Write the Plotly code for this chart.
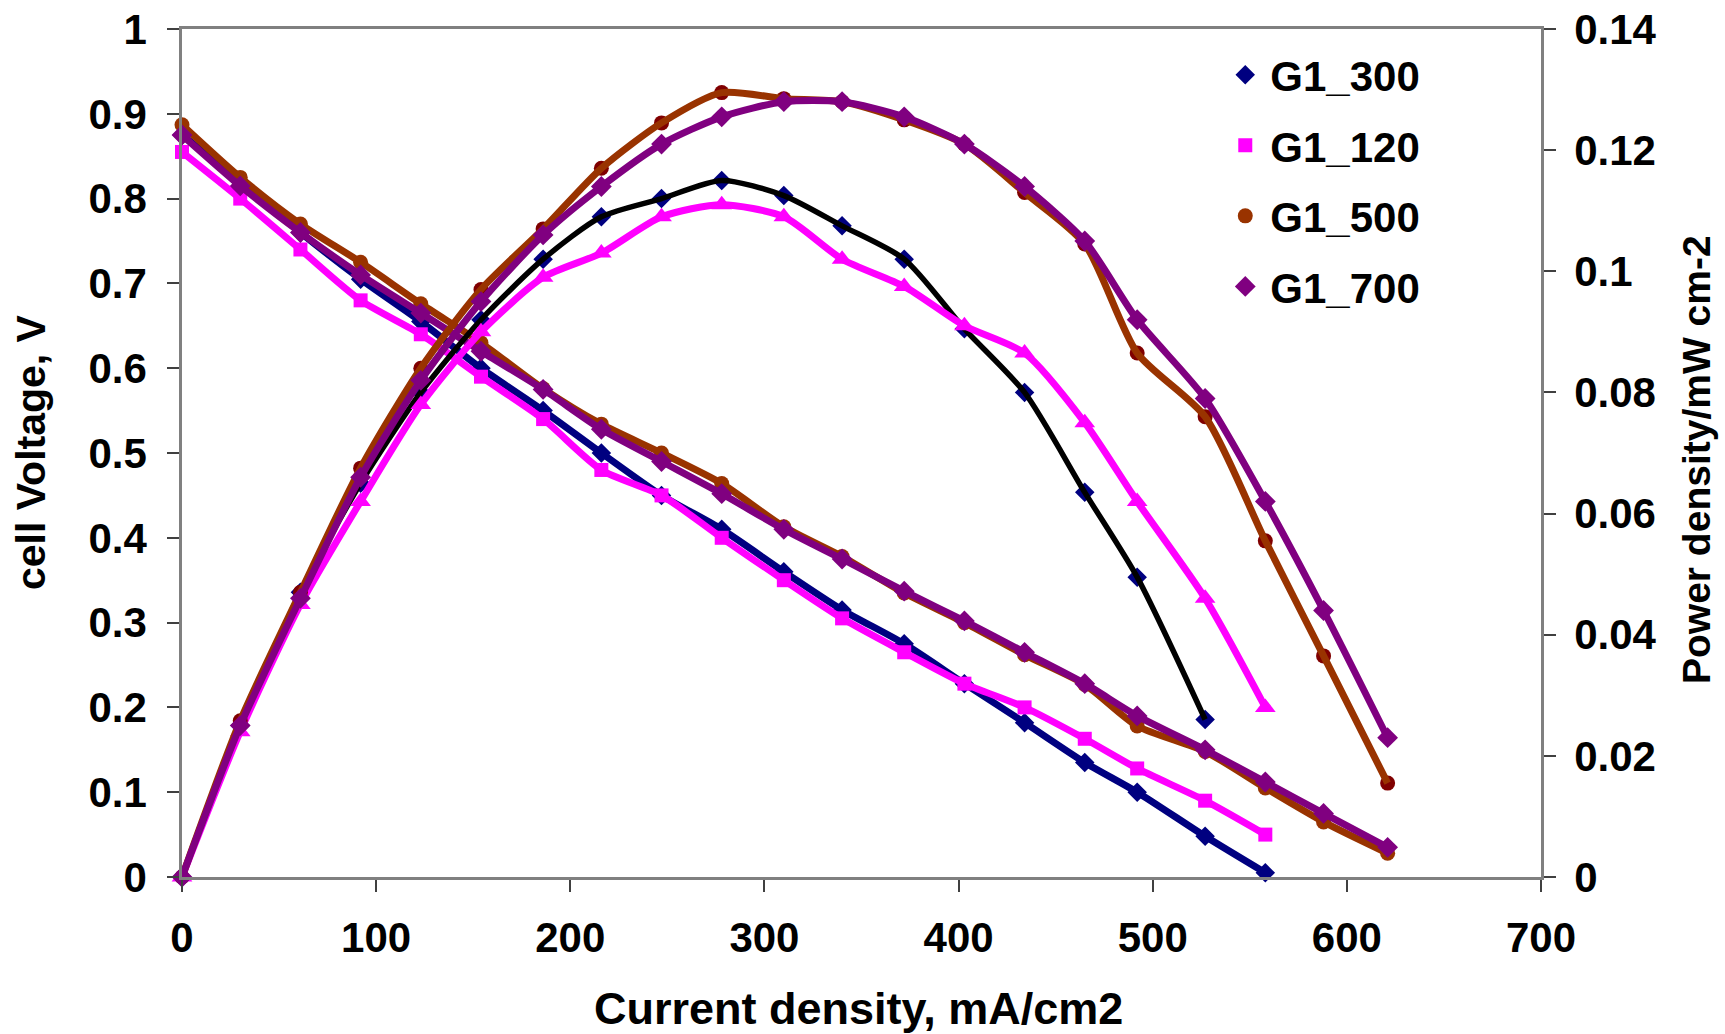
import plotly.graph_objects as go

# Current density (mA/cm2)
x_common = [0, 30, 61, 92, 123, 154, 186, 216, 247, 278, 310, 340, 372, 403, 434, 465, 492, 527, 558, 588, 621]

x_300 = x_common[:19]
v_300 = [0.875, 0.82, 0.76, 0.705, 0.655, 0.60, 0.55, 0.50, 0.45, 0.41, 0.36, 0.315, 0.275, 0.228, 0.182, 0.135, 0.10, 0.048, 0.005]
xp_300 = x_common[:18]
p_300 = [0.0, 0.025, 0.047, 0.065, 0.080, 0.092, 0.102, 0.109, 0.112, 0.115, 0.1125, 0.1075, 0.102, 0.0905, 0.080, 0.0635, 0.0495, 0.026]

x_120 = x_common[:19]
v_120 = [0.855, 0.80, 0.74, 0.68, 0.64, 0.59, 0.54, 0.48, 0.45, 0.40, 0.35, 0.305, 0.265, 0.228, 0.20, 0.163, 0.128, 0.09, 0.05]
p_120 = [0.0, 0.024, 0.045, 0.062, 0.078, 0.090, 0.099, 0.103, 0.109, 0.111, 0.109, 0.102, 0.0975, 0.091, 0.0865, 0.075, 0.062, 0.046, 0.028]

x_500 = x_common
v_500 = [0.887, 0.825, 0.77, 0.725, 0.676, 0.63, 0.576, 0.534, 0.50, 0.464, 0.413, 0.378, 0.335, 0.30, 0.262, 0.227, 0.178, 0.148, 0.105, 0.065, 0.028]
p_500 = [0.0, 0.0258, 0.047, 0.0675, 0.084, 0.097, 0.107, 0.117, 0.1245, 0.1295, 0.1285, 0.128, 0.125, 0.121, 0.113, 0.1045, 0.0865, 0.076, 0.0555, 0.0365, 0.0155]

x_700 = x_common
v_700 = [0.875, 0.815, 0.76, 0.71, 0.665, 0.62, 0.575, 0.528, 0.49, 0.452, 0.41, 0.375, 0.337, 0.302, 0.265, 0.228, 0.19, 0.15, 0.112, 0.075, 0.035]
p_700 = [0.0, 0.025, 0.046, 0.066, 0.082, 0.095, 0.106, 0.114, 0.121, 0.1255, 0.128, 0.128, 0.1255, 0.121, 0.114, 0.105, 0.092, 0.079, 0.062, 0.044, 0.023]

names = ["G1_300", "G1_120", "G1_500", "G1_700"]
x_ticks = [0, 100, 200, 300, 400, 500, 600, 700]
x_title = "Current density, mA/cm2"
y_title = "cell Voltage, V"
y2_title = "Power density/mW cm-2"

FONT = "Liberation Sans, Arial, sans-serif"
NAVY = "#000080"
MAG = "#FF00FF"
BROWN = "#993300"
DARKRED = "#800000"
PURPLE = "#800080"

fig = go.Figure()

def line(x, y, color, axis="y", width=7):
    fig.add_trace(go.Scatter(x=x, y=y, mode="lines", yaxis=axis, showlegend=False,
                             line=dict(color=color, width=width, shape="spline", smoothing=0.7),
                             hoverinfo="skip", cliponaxis=False))

def marks(x, y, color, symbol, size, axis="y", name=None, group=None):
    fig.add_trace(go.Scatter(x=x, y=y, mode="markers", yaxis=axis,
                             showlegend=name is not None, name=name, legendgroup=group,
                             marker=dict(color=color, symbol=symbol, size=size, line=dict(width=0)),
                             cliponaxis=False))

# Power density curves (right axis)
marks(xp_300, p_300, NAVY, "diamond", 15, "y2")
line(xp_300, p_300, "#000000", "y2", 5.5)
marks(x_120, p_120, MAG, "triangle-up", 18, "y2")
line(x_120, p_120, MAG, "y2")
marks(x_500, p_500, DARKRED, "circle", 15, "y2")
line(x_500, p_500, BROWN, "y2")
marks(x_700, p_700, PURPLE, "diamond", 16, "y2")
line(x_700, p_700, PURPLE, "y2")

# Polarization curves (left axis)
marks(x_300, v_300, NAVY, "diamond", 15, name=names[0], group="a")
line(x_300, v_300, NAVY)
marks(x_120, v_120, MAG, "square", 14, name=names[1], group="b")
line(x_120, v_120, MAG)
marks(x_500, v_500, BROWN, "circle", 15, name=names[2], group="c")
line(x_500, v_500, BROWN)
marks(x_700, v_700, PURPLE, "diamond", 16, name=names[3], group="d")
line(x_700, v_700, PURPLE)

axis_common = dict(showgrid=False, zeroline=False, showline=True, linecolor="#808080",
                   linewidth=2.5, ticks="outside", ticklen=12, tickcolor="#404040", tickwidth=1.5,
                   automargin=False,
                   tickfont=dict(family=FONT, size=42, color="#000000", weight="bold"))

title_font = dict(family=FONT, color="#000000", weight="bold")

fig.update_layout(
    width=1725, height=1034,
    paper_bgcolor="white", plot_bgcolor="white",
    margin=dict(l=182, r=184, t=29, b=157),
    font=dict(family=FONT, color="#000000"),
    xaxis=dict(range=[0, 700], tickmode="array", tickvals=x_ticks, mirror=True,
               ticklabelstandoff=10, **axis_common),
    yaxis=dict(range=[0, 1], dtick=0.1, ticklabelstandoff=12, **axis_common),
    yaxis2=dict(range=[0, 0.14], dtick=0.02, overlaying="y", side="right",
                ticklabelstandoff=10, **axis_common),
    legend=dict(x=0.764, y=0.986, xanchor="left", yanchor="top", bgcolor="rgba(0,0,0,0)",
                font=dict(family=FONT, size=42, color="#000000", weight="bold"),
                tracegroupgap=13, itemwidth=40),
    showlegend=True,
    annotations=[
        dict(text=x_title, xref="paper", yref="paper", x=(858 - 182) / 1359, y=-(1008 - 877) / 848,
             xanchor="center", yanchor="middle", showarrow=False, font=dict(size=45, **title_font)),
        dict(text=y_title, xref="paper", yref="paper", x=-(182 - 31) / 1359, y=(877 - 452) / 848,
             xanchor="center", yanchor="middle", textangle=-90, showarrow=False,
             font=dict(size=41, **title_font)),
        dict(text=y2_title, xref="paper", yref="paper", x=1 + (1697 - 1541) / 1359, y=(877 - 460) / 848,
             xanchor="center", yanchor="middle", textangle=-90, showarrow=False,
             font=dict(size=39, **title_font)),
    ],
)

fig.write_html("out.html")
